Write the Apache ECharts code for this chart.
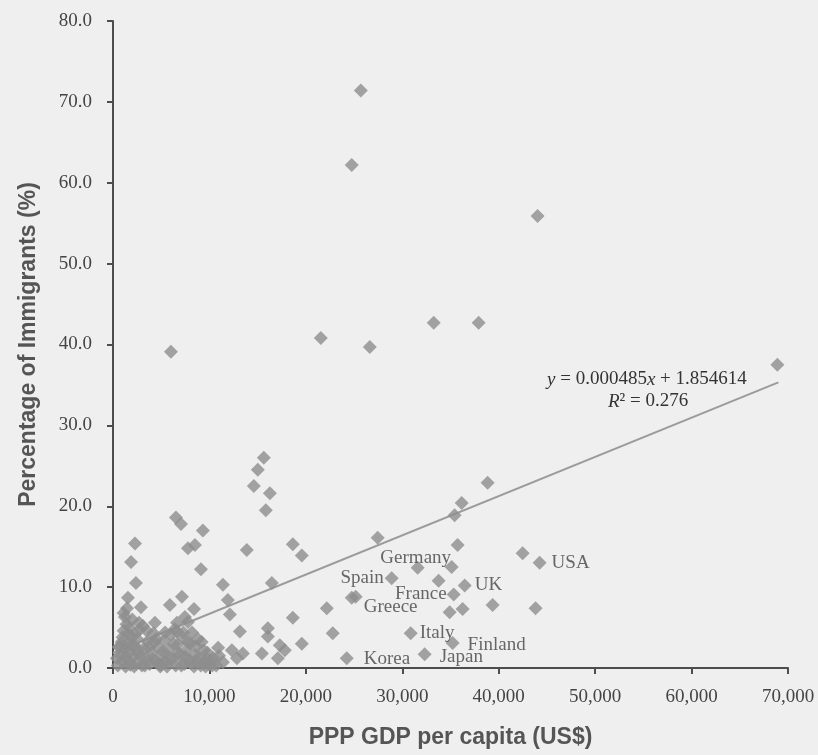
<!DOCTYPE html>
<html>
<head>
<meta charset="utf-8">
<script src="https://cdn.jsdelivr.net/npm/echarts@6/dist/echarts.min.js"></script>
<style>
  html, body { margin: 0; padding: 0; background: #efefef; }
  #chart { width: 818px; height: 755px; }
</style>
</head>
<body>
<div id="chart"></div>
<script>
// ---- Data ----
const gdp = [
  25700, 24760, 44030, 68900, 33260, 37920, 26630, 21550, 6010,
  15640, 15020, 14600, 16270, 15850, 6530, 7050, 9320, 2280, 27450,
  7770, 8500, 13880, 18650, 19580, 1870, 9120, 2380, 16470, 11400,
  38850, 36160, 35430, 35740, 42480, 35120, 33770, 36260, 34910, 39370,
  43820, 22170, 18650, 22790, 13160, 16060, 16060, 19580, 17300, 17820,
  17100, 15440, 13470, 12850, 12330, 12120, 11910, 7150, 1550, 2900,
  5900, 1450, 8400, 1240, 4350, 6630, 7770, 7460, 10900, 11400, 25170,
  500, 800, 900, 1000, 1100, 1200, 1300, 1400, 1500, 1600, 1700, 1800,
  1900, 2000, 2100, 2200, 2400, 2500, 2600, 2800, 3000, 3200, 3400, 3600,
  3800, 4000, 4200, 4400, 4600, 4900, 5100, 5300, 5500, 5800, 6000, 6200,
  6500, 6700, 6900, 7200, 7400, 7600, 7900, 8200, 8400, 8600, 8900, 9200,
  9500, 9800, 10100, 10300, 11000, 700, 2300, 3100, 5000, 6400, 8000, 9600,
  400, 600, 1000, 1300, 1600, 1900, 2200, 2600, 2900, 3300, 3700, 4100,
  4500, 4800, 5200, 5600, 5900, 6300, 6800, 7100, 7500, 7800, 8100, 8500,
  8800, 9100, 9400, 9700, 10000, 10400, 10700, 1100, 1700, 2700, 3500, 4300,
  5400, 6600, 7300, 8700
];
const pct = [
  71.4, 62.2, 55.9, 37.5, 42.7, 42.7, 39.7, 40.8, 39.1,
  26.0, 24.5, 22.5, 21.6, 19.5, 18.6, 17.8, 17.0, 15.4, 16.1,
  14.8, 15.2, 14.6, 15.3, 13.9, 13.1, 12.2, 10.5, 10.5, 10.3,
  22.9, 20.4, 18.9, 15.2, 14.2, 12.5, 10.8, 7.3, 6.9, 7.8,
  7.4, 7.4, 6.2, 4.3, 4.5, 4.9, 3.9, 3.0, 2.8, 2.2,
  1.2, 1.8, 1.8, 1.2, 2.2, 6.6, 8.4, 8.8, 8.7, 7.5,
  7.8, 7.4, 7.3, 6.3, 5.6, 5.6, 5.7, 6.3, 2.5, 0.7, 8.8,
  0.3, 1.5, 3.2, 0.8, 4.6, 2.2, 0.2, 5.4, 3.0, 1.0, 2.0, 0.4,
  4.0, 6.0, 1.4, 2.8, 0.6, 3.6, 1.8, 4.8, 0.3, 2.4, 1.2, 3.3,
  0.5, 1.9, 4.3, 0.9, 2.6, 0.2, 1.5, 3.4, 0.7, 2.3, 4.1, 1.1,
  0.3, 2.9, 1.6, 3.8, 0.5, 2.2, 1.0, 4.4, 0.2, 2.7, 1.3, 3.2,
  0.6, 1.9, 0.9, 0.3, 1.5, 2.6, 4.2, 5.2, 0.4, 4.8, 3.0, 0.2,
  1.2, 2.6, 3.8, 1.4, 4.2, 2.8, 0.2, 2.2, 1.4, 0.3, 2.6, 1.1,
  3.6, 0.5, 2.0, 0.2, 1.2, 3.0, 1.9, 0.3, 1.4, 3.2, 0.6, 1.6,
  3.6, 0.3, 2.2, 1.2, 0.4, 1.2, 0.3, 6.8, 5.0, 5.6, 4.6, 3.2,
  4.4, 4.5, 4.4, 0.8
];
const countryNames = ['Spain', 'Germany', 'France', 'UK', 'USA', 'Greece', 'Italy', 'Finland', 'Japan', 'Korea'];
const countryGdp   = [28900, 31600, 35330, 36470, 44240, 24760, 30870, 35220, 32320, 24240];
const countryPct   = [11.1, 12.4, 9.1, 10.2, 13.0, 8.7, 4.3, 3.1, 1.7, 1.2];
const trendSlope = 0.000485;
const trendIntercept = 1.854614;
const trendR2 = '0.276';
const trendXRange = [0, 69000];
const xTicks = { min: 0, max: 70000, step: 10000 };
const yTicks = { min: 0, max: 80, step: 10 };

// ---- Styling (kept separate from data) ----
const labelStyle = {
  Spain:   { position: 'left',  distance: 1, offset: [0, 0] },
  Germany: { position: 'top',   distance: 0, offset: [-2, 7] },
  France:  { position: 'left',  distance: 0, offset: [0, 0] },
  UK:      { position: 'right', distance: 3, offset: [0, 0] },
  USA:     { position: 'right', distance: 5, offset: [0, 0] },
  Greece:  { position: 'right', distance: 5, offset: [0, 9] },
  Italy:   { position: 'right', distance: 2, offset: [0, 0] },
  Finland: { position: 'right', distance: 8, offset: [0, 2] },
  Japan:   { position: 'right', distance: 8, offset: [0, 3] },
  Korea:   { position: 'right', distance: 10, offset: [0, 1] }
};

const MARK = '#8d8d8d';
const AXIS = '#4d4d4d';
const serif = '"Liberation Serif", "Times New Roman", serif';
const sans = '"Liberation Sans", Arial, sans-serif';

const points = gdp.map((g, i) => [g, pct[i]]);
const countryData = countryNames.map((n, i) => {
  const s = labelStyle[n];
  return {
    name: n,
    value: [countryGdp[i], countryPct[i]],
    label: { show: true, position: s.position, distance: s.distance, offset: s.offset }
  };
});
const trendData = trendXRange.map(x => [x, trendSlope * x + trendIntercept]);

const chart = echarts.init(document.getElementById('chart'), null, { renderer: 'canvas' });
chart.setOption({
  backgroundColor: '#efefef',
  animation: false,
  grid: { left: 113, right: 30, top: 21, bottom: 87, containLabel: false },
  xAxis: {
    type: 'value', min: xTicks.min, max: xTicks.max, interval: xTicks.step,
    name: 'PPP GDP per capita (US$)', nameLocation: 'middle', nameGap: 58,
    nameTextStyle: { fontFamily: sans, fontWeight: 'bold', fontSize: 23, color: '#555' },
    axisLine: { show: true, lineStyle: { color: AXIS, width: 2 } },
    axisTick: { show: true, inside: false, length: 6, lineStyle: { color: AXIS, width: 2 } },
    axisLabel: {
      margin: 20, fontFamily: serif, fontSize: 19, color: '#444',
      formatter: v => v === 0 ? '0' : v.toLocaleString('en-US')
    },
    splitLine: { show: false }
  },
  yAxis: {
    type: 'value', min: yTicks.min, max: yTicks.max, interval: yTicks.step,
    name: 'Percentage of Immigrants (%)', nameLocation: 'middle', nameGap: 73, nameRotate: 90,
    nameTextStyle: { fontFamily: sans, fontWeight: 'bold', fontSize: 23, color: '#555' },
    axisLine: { show: true, lineStyle: { color: AXIS, width: 2 } },
    axisTick: { show: true, inside: false, length: 6, lineStyle: { color: AXIS, width: 2 } },
    axisLabel: {
      margin: 21, fontFamily: serif, fontSize: 19, color: '#444',
      formatter: v => v.toFixed(1)
    },
    splitLine: { show: false }
  },
  series: [
    {
      type: 'line', data: trendData, showSymbol: false, symbol: 'none',
      lineStyle: { color: '#9b9b9b', width: 2 }, z: 1, silent: true
    },
    {
      type: 'scatter', data: points, symbol: 'diamond', symbolSize: 14,
      itemStyle: { color: MARK }, z: 2
    },
    {
      type: 'scatter', data: countryData, symbol: 'diamond', symbolSize: 14,
      itemStyle: { color: MARK }, z: 3,
      label: {
        show: true, formatter: p => p.name,
        fontFamily: serif, fontSize: 19, color: '#444'
      }
    }
  ],
  graphic: [
    {
      type: 'text', left: 652 - 105, top: 370, z: 10,
      style: {
        text: '{i|y} = 0.000485{i|x} + 1.854614',
        fontFamily: serif, fontSize: 19, fill: '#333',
        rich: { i: { fontStyle: 'italic', fontFamily: serif, fontSize: 19, fill: '#333' } }
      }
    },
    {
      type: 'text', left: 652 - 44, top: 392, z: 10,
      style: {
        text: '{i|R}² = ' + trendR2,
        fontFamily: serif, fontSize: 19, fill: '#333',
        rich: { i: { fontStyle: 'italic', fontFamily: serif, fontSize: 19, fill: '#333' } }
      }
    }
  ]
});
</script>
</body>
</html>
